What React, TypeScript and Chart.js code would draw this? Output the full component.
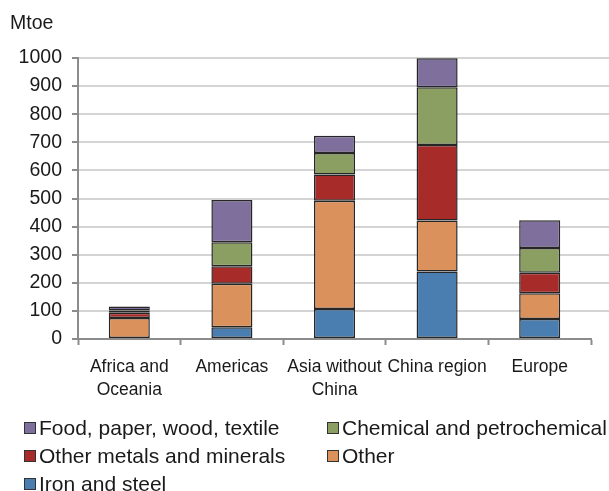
import React, { useEffect, useRef } from "react";
import { Chart, registerables } from "chart.js";

Chart.register(...registerables);

const categories: (string | string[])[] = [
  ["Africa and", "Oceania"],
  "Americas",
  ["Asia without", "China"],
  "China region",
  "Europe",
];

const ironSteel = [0, 42, 107, 240, 71];
const otherSector = [75, 155, 385, 182, 92];
const otherMetals = [18, 62, 93, 268, 73];
const chemical = [8, 85, 77, 206, 88];
const foodPaper = [15, 151, 61, 103, 99];

const yTicks = [0, 100, 200, 300, 400, 500, 600, 700, 800, 900, 1000];

const seriesNames = [
  "Iron and steel",
  "Other",
  "Other metals and minerals",
  "Chemical and petrochemical",
  "Food, paper, wood, textile",
];
const seriesColors = ["#4a7eb0", "#db915b", "#a62b29", "#8b9f62", "#7f6f9c"];

const legendOrder = [4, 3, 2, 1, 0];

const FONT = "'Liberation Sans', Arial, sans-serif";
const GRID = "#d4d4d4";
const AXIS = "#8c8c8c";
const TEXT = "#1a1a1a";

const extendGrid = {
  id: "extendGrid",
  afterDraw(chart: any) {
    const { ctx, chartArea, scales } = chart;
    const y = scales.y;
    ctx.save();
    ctx.strokeStyle = GRID;
    ctx.lineWidth = 2;
    yTicks.forEach((v) => {
      if (v === 0) return;
      const py = Math.round(y.getPixelForValue(v));
      ctx.beginPath();
      ctx.moveTo(chartArea.right, py);
      ctx.lineTo(chart.width, py);
      ctx.stroke();
    });
    ctx.restore();
  },
};

export default function App() {
  const ref = useRef<HTMLCanvasElement | null>(null);

  useEffect(() => {
    if (!ref.current) return;
    const values = [ironSteel, otherSector, otherMetals, chemical, foodPaper];
    const chart = new Chart(ref.current, {
      type: "bar",
      data: {
        labels: categories as any,
        datasets: values.map((d, i) => ({
          label: seriesNames[i],
          data: d,
          backgroundColor: seriesColors[i],
          borderColor: "#262626",
          borderWidth: 1.5,
          borderSkipped: false,
          categoryPercentage: 1,
          barPercentage: 0.4,
        })),
      },
      options: {
        animation: false,
        responsive: false,
        maintainAspectRatio: false,
        layout: { padding: { left: 0, top: 58, right: 18, bottom: 92 } },
        plugins: {
          legend: { display: false },
          tooltip: { enabled: false },
          title: { display: false },
        },
        scales: {
          x: {
            stacked: true,
            offset: true,
            grid: {
              offset: true,
              drawOnChartArea: false,
              drawTicks: true,
              tickLength: 6,
              tickColor: AXIS,
              tickWidth: 2,
            },
            border: { display: true, color: AXIS, width: 2 },
            ticks: {
              color: TEXT,
              font: { family: FONT, size: 17.5, lineHeight: 1.32 },
              padding: 11,
              maxRotation: 0,
              autoSkip: false,
            },
            afterFit: (s: any) => {
              s.height = 60;
            },
          },
          y: {
            stacked: true,
            min: 0,
            max: 1000,
            afterBuildTicks: (s: any) => {
              s.ticks = yTicks.map((v) => ({ value: v }));
            },
            grid: {
              color: GRID,
              lineWidth: 2,
              drawTicks: true,
              tickLength: 6,
              tickColor: AXIS,
              tickWidth: 2,
            },
            border: { display: true, color: AXIS, width: 2 },
            ticks: {
              color: TEXT,
              font: { family: FONT, size: 19.5 },
              padding: 10,
              callback: (v: any) => String(v),
            },
            afterFit: (s: any) => {
              s.width = 78;
            },
          },
        },
      },
      plugins: [extendGrid],
    });
    return () => chart.destroy();
  }, []);

  const legendPos = [
    { left: 24, top: 428 },
    { left: 327, top: 428 },
    { left: 24, top: 456 },
    { left: 327, top: 456 },
    { left: 24, top: 484 },
  ];

  return (
    <div
      style={{
        position: "absolute",
        left: 0,
        top: 0,
        width: 609,
        height: 491,
        overflow: "hidden",
        background: "#ffffff",
        fontFamily: FONT,
      }}
    >
      <canvas ref={ref} width={609} height={491} style={{ position: "absolute", left: 0, top: 0 }} />
      <div
        style={{
          position: "absolute",
          left: 10,
          top: 10,
          fontSize: 19.5,
          color: TEXT,
          lineHeight: "24px",
        }}
      >
        Mtoe
      </div>
      {legendOrder.map((idx, k) => (
        <div
          key={idx}
          style={{
            position: "absolute",
            left: legendPos[k].left,
            top: legendPos[k].top - 13,
            height: 26,
            display: "flex",
            alignItems: "center",
            whiteSpace: "nowrap",
            fontSize: 21,
            color: TEXT,
          }}
        >
          <span
            style={{
              display: "inline-block",
              width: 10,
              height: 10,
              background: seriesColors[idx],
              border: "1.5px solid #333",
              marginRight: 3,
            }}
          />
          <span>{seriesNames[idx]}</span>
        </div>
      ))}
    </div>
  );
}
